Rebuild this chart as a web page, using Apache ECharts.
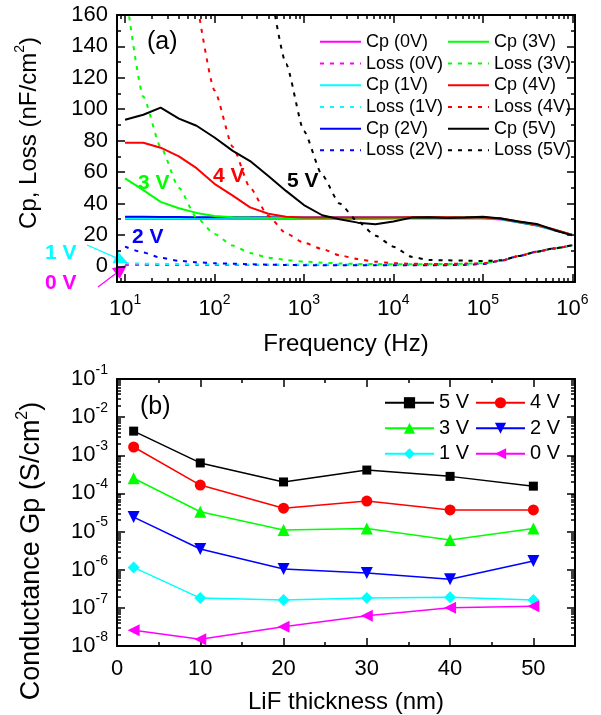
<!DOCTYPE html>
<html>
<head>
<meta charset="utf-8">
<script src="https://cdn.jsdelivr.net/npm/echarts@6/dist/echarts.min.js"></script>
<style>
html, body { margin: 0; padding: 0; background: #fff; }
#chart { width: 601px; height: 715px; }
</style>
</head>
<body>
<div id="chart"></div>
<script>
// (a) capacitance and loss vs frequency
const freqHz = [10, 16, 25, 40, 63, 100, 160, 250, 400, 630, 1e3, 1.6e3, 2.5e3, 4e3, 6.3e3,
    1e4, 1.6e4, 2.5e4, 4e4, 6.3e4, 1e5, 1.6e5, 2.5e5, 4e5, 6.3e5, 1e6];

const cp0V = [30.3, 30.3, 30.3, 30.3, 30.3, 30.3, 30.3, 30.3, 30.3, 30.3, 30.3, 30.3, 30.3, 30.3, 30.3, 30.4, 30.5, 30.5, 30.5, 30.5, 30.5, 29.8, 28, 26, 23, 20];
const cp1V = [30.8, 30.8, 30.8, 30.8, 30.8, 30.8, 30.8, 30.8, 30.8, 30.8, 30.8, 30.8, 30.8, 30.8, 30.8, 30.8, 30.9, 30.9, 30.9, 30.9, 30.9, 30, 28, 26, 23, 20];
const cp2V = [31.5, 31.5, 31.4, 31.4, 31.3, 31.3, 31.2, 31.2, 31.2, 31.1, 31.1, 31.1, 31.1, 31.1, 31.1, 31.1, 31.1, 31.1, 31.1, 31.1, 31, 30.2, 28.2, 26.2, 23.2, 20];
const cp3V = [56, 48.5, 41, 37, 34, 32, 31.2, 31, 30.9, 30.8, 30.8, 30.8, 30.8, 30.8, 30.8, 30.8, 30.9, 31, 31, 31, 31, 30.2, 28.3, 26.3, 23.3, 20];
const cp4V = [78.7, 78.7, 75.5, 70, 62.5, 52.5, 45, 37.5, 33.5, 31.5, 31, 31, 31, 31, 31, 31, 31.2, 31.3, 31.2, 31, 31, 30.4, 28.6, 26.5, 23.5, 20];
const cp5V = [93.3, 96.5, 101, 94, 89.5, 82, 73.5, 67, 57.5, 48, 39, 32.5, 30, 27.8, 26.8, 28.5, 31, 31.3, 30.8, 31, 31.5, 30.5, 28.5, 27, 23, 19.7];

const loss0V = [0.8, 0.8, 0.8, 0.8, 0.8, 0.8, 0.8, 0.8, 0.8, 0.8, 0.8, 0.8, 0.8, 0.8, 0.8, 0.8, 0.8, 0.8, 0.9, 1.1, 1.6, 3.6, 6.5, 9.3, 11.4, 13.4];
const loss1V = [2, 1.7, 1.5, 1.4, 1.3, 1.3, 1.2, 1.2, 1.2, 1.2, 1.2, 1.2, 1.2, 1.2, 1.2, 1.2, 1.2, 1.2, 1.3, 1.4, 1.8, 3.6, 6.5, 9.3, 11.4, 13.4];
const loss2V = [12.5, 8.8, 5.4, 3.5, 2.6, 2, 1.6, 1.3, 1, 0.8, 0.7, 0.6, 0.6, 0.6, 0.6, 0.6, 0.6, 0.6, 0.7, 0.9, 1.5, 3.6, 6.5, 9.3, 11.4, 13.4];
const loss3V = [178, 108, 76, 50, 31, 20.5, 13.2, 8.5, 5.5, 4, 3, 2.3, 1.8, 1.5, 1.4, 1.3, 1.3, 1.4, 1.5, 1.7, 2, 3.6, 6.5, 9.3, 11.4, 13.4];
const loss4V = [null, null, null, null, 170, 112, 76, 50, 32, 21, 15, 11, 7, 4.6, 2.9, 2, 1.6, 1.5, 1.5, 1.7, 1.9, 3.6, 6.5, 9.3, 11.4, 13.4];
const loss5V = [null, null, null, null, null, null, null, null, 185, 129, 86, 58, 40, 28.5, 19.5, 12.5, 6, 4, 3.8, 3.6, 3.4, 3.8, 6.5, 9.3, 11.4, 13.4];

const biasNames = ['0V', '1V', '2V', '3V', '4V', '5V'];
const biasColors = ['#ff00ff', '#00ffff', '#0000ff', '#00ff00', '#ff0000', '#000000'];
const cpSets = [cp0V, cp1V, cp2V, cp3V, cp4V, cp5V];
const lossSets = [loss0V, loss1V, loss2V, loss3V, loss4V, loss5V];

const cpTicks = [0, 20, 40, 60, 80, 100, 120, 140, 160];
const freqDecades = [1, 2, 3, 4, 5, 6];

// (b) conductance vs LiF thickness
const thicknessNm = [2, 10, 20, 30, 40, 50];
const gp5V = [4.3e-3, 6.3e-4, 2.0e-4, 4.1e-4, 2.8e-4, 1.55e-4];
const gp4V = [1.65e-3, 1.66e-4, 4.1e-5, 6.3e-5, 3.7e-5, 3.7e-5];
const gp3V = [2.5e-4, 3.3e-5, 1.1e-5, 1.2e-5, 6e-6, 1.2e-5];
const gp2V = [2.4e-5, 3.5e-6, 1.05e-6, 8.2e-7, 5.6e-7, 1.7e-6];
const gp1V = [1.15e-6, 1.8e-7, 1.6e-7, 1.8e-7, 1.9e-7, 1.6e-7];
const gp0V = [2.6e-8, 1.5e-8, 3.2e-8, 6.2e-8, 1.0e-7, 1.1e-7];

const gpNames = ['5 V', '4 V', '3 V', '2 V', '1 V', '0 V'];
const gpColors = ['#000000', '#ff0000', '#00ff00', '#0000ff', '#00ffff', '#ff00ff'];
const gpSets = [gp5V, gp4V, gp3V, gp2V, gp1V, gp0V];
const gpSymbols = ['rect', 'circle', 'triangle', 'triangle', 'diamond', 'triangle'];
const gpRotate = [0, 0, 0, 180, 0, 90];
const gpSizes = [9, 11, 12, 12, 12, 12];

const thicknessTicks = [0, 10, 20, 30, 40, 50];
const gpDecades = [-8, -7, -6, -5, -4, -3, -2, -1];

const FONT = '"Liberation Sans", Arial, sans-serif';

document.addEventListener('DOMContentLoaded', () => {
    const chart = echarts.init(document.getElementById('chart'));

    const logMinor = (from, to, lo, hi) => {
        const out = [];
        for (let n = from; n < to; n++) {
            for (let k = 2; k <= 9; k++) {
                const v = n + Math.log10(k);
                if (v > lo && v < hi) out.push(v);
            }
        }
        return out;
    };

    const powLabel = (margin) => ({
        margin: margin,
        formatter: (v) => '{b|10}{s|' + Math.round(v) + '}',
        rich: {
            b: { fontSize: 22, lineHeight: 32, fontFamily: FONT, color: '#000' },
            s: { fontSize: 14, lineHeight: 14, verticalAlign: 'top', fontFamily: FONT, color: '#000' }
        }
    });

    // one labelled axis + mirrored axis + two minor-tick axes per dimension
    const axisSet = (dim, grid, min, max, major, minor, label, name) => {
        const sides = dim === 'x' ? ['bottom', 'top'] : ['left', 'right'];
        const make = (pos, ticks, len, line, lab) => {
            const ax = {
                gridIndex: grid, type: 'value', position: pos, min: min, max: max,
                axisLine: { show: line, onZero: false, lineStyle: { color: '#000', width: 2 } },
                axisTick: { show: true, inside: true, length: len, customValues: ticks,
                    lineStyle: { color: '#000', width: 1.5 } },
                axisLabel: lab ? Object.assign({ customValues: major, color: '#000',
                    fontSize: 22, fontFamily: FONT }, lab) : { show: false },
                splitLine: { show: false }
            };
            if (lab && name) Object.assign(ax, name);
            return ax;
        };
        return [
            make(sides[0], major, 8, true, label),
            make(sides[1], major, 8, true, null),
            make(sides[0], minor, 4, false, null),
            make(sides[1], minor, 4, false, null)
        ];
    };

    const xMinA = 0.91, xMaxA = 6.03;
    const xAxes = [].concat(
        axisSet('x', 0, xMinA, xMaxA, freqDecades, logMinor(0, 6, xMinA, xMaxA), powLabel(11), {
            name: 'Frequency (Hz)', nameLocation: 'middle', nameGap: 50,
            nameTextStyle: { fontSize: 24, color: '#000', fontFamily: FONT }
        }),
        axisSet('x', 1, 0, 55, thicknessTicks, [5, 15, 25, 35, 45], { margin: 12 }, {
            name: 'LiF thickness (nm)', nameLocation: 'middle', nameGap: 44,
            nameTextStyle: { fontSize: 24, color: '#000', fontFamily: FONT }
        })
    );
    const yAxes = [].concat(
        axisSet('y', 0, -10, 160, cpTicks, [-10, 10, 30, 50, 70, 90, 110, 130, 150], { margin: 9 }),
        axisSet('y', 1, -8, -1, gpDecades, logMinor(-8, -1, -8, -1), powLabel(9))
    );

    const series = [];
    biasNames.forEach((b, i) => {
        series.push({
            name: 'Cp (' + b + ')', type: 'line', xAxisIndex: 0, yAxisIndex: 0,
            symbol: 'none', clip: true,
            data: freqHz.map((f, j) => [Math.log10(f), cpSets[i][j]]),
            lineStyle: { color: biasColors[i], width: 2 },
            itemStyle: { color: biasColors[i] }
        });
        series.push({
            name: 'Loss (' + b + ')', type: 'line', xAxisIndex: 0, yAxisIndex: 0,
            symbol: 'none', clip: true, smooth: 0.2, smoothMonotone: 'x',
            data: freqHz.map((f, j) => [Math.log10(f), lossSets[i][j]]).filter((p) => p[1] !== null),
            lineStyle: { color: biasColors[i], width: 2, type: [4, 6] },
            itemStyle: { color: biasColors[i] }
        });
    });
    gpNames.forEach((n, i) => {
        series.push({
            name: n, type: 'line', xAxisIndex: 4, yAxisIndex: 4,
            symbol: gpSymbols[i], symbolSize: gpSizes[i], symbolRotate: gpRotate[i],
            data: thicknessNm.map((t, j) => [t, Math.log10(gpSets[i][j])]),
            lineStyle: { color: gpColors[i], width: 1.5 },
            itemStyle: { color: gpColors[i] }
        });
    });

    const legendA = (names, left) => ({
        data: names, orient: 'vertical', left: left, top: 31, padding: 0,
        itemWidth: 41, itemHeight: 10, itemGap: 0,
        itemStyle: { opacity: 0 },
        textStyle: { fontSize: 18, lineHeight: 21.7, color: '#000', fontFamily: FONT }
    });
    const legendB = (names, left) => ({
        data: names, orient: 'vertical', left: left, top: 390, padding: 0,
        itemWidth: 49, itemHeight: 14, itemGap: 0,
        textStyle: { fontSize: 20, lineHeight: 25.5, color: '#000', fontFamily: FONT }
    });

    const txt = (text, x, y, color, size, bold) => ({
        type: 'text', x: x, y: y,
        style: { text: text, fill: color, font: (bold ? 'bold ' : '') + size + 'px ' + FONT,
            textVerticalAlign: 'middle' }
    });
    const arrow = (x1, y1, x2, y2, color) => {
        const dx = x2 - x1, dy = y2 - y1, len = Math.hypot(dx, dy);
        const ux = dx / len, uy = dy / len, hl = 14, hw = 6.5;
        const bx = x2 - ux * hl, by = y2 - uy * hl;
        return [
            { type: 'line', shape: { x1: x1, y1: y1, x2: bx, y2: by }, style: { stroke: color, lineWidth: 1.2 } },
            { type: 'polygon', shape: { points: [[x2, y2], [bx - uy * hw, by + ux * hw], [bx + uy * hw, by - ux * hw]] },
                style: { fill: color } }
        ];
    };
    const vTitle = (rich, x, y) => ({
        type: 'text', x: x, y: y, rotation: Math.PI / 2,
        style: { text: rich.text, rich: rich.rich, align: 'center', verticalAlign: 'middle' }
    });
    const supTitle = (main, size) => ({
        text: '{t|' + main + '}{s|2}{t|)}',
        rich: {
            t: { fontSize: size, lineHeight: size + 8, fontFamily: FONT, fill: '#000', color: '#000' },
            s: { fontSize: Math.round(size * 0.6), lineHeight: size * 0.6, verticalAlign: 'top', fontFamily: FONT, fill: '#000', color: '#000' }
        }
    });

    chart.setOption({
        animation: false,
        backgroundColor: '#fff',
        textStyle: { fontFamily: FONT },
        grid: [
            { left: 117, top: 15, width: 458, height: 267 },
            { left: 117, top: 379, width: 458, height: 267 }
        ],
        xAxis: xAxes,
        yAxis: yAxes,
        legend: [
            legendA(['Cp (0V)', 'Loss (0V)', 'Cp (1V)', 'Loss (1V)', 'Cp (2V)', 'Loss (2V)'], 319),
            legendA(['Cp (3V)', 'Loss (3V)', 'Cp (4V)', 'Loss (4V)', 'Cp (5V)', 'Loss (5V)'], 447),
            legendB(['5 V', '3 V', '1 V'], 384),
            legendB(['4 V', '2 V', '0 V'], 475)
        ],
        series: series,
        graphic: [].concat(
            [
                txt('(a)', 147, 42, '#000', 25, false),
                txt('(b)', 140, 407, '#000', 25, false),
                txt('3 V', 138, 183, '#00ff00', 21, true),
                txt('4 V', 213, 176, '#ff0000', 21, true),
                txt('5 V', 287, 181, '#000000', 21, true),
                txt('2 V', 132, 237, '#0000ff', 21, true),
                txt('1 V', 45, 253, '#00ffff', 21, true),
                txt('0 V', 45, 283, '#ff00ff', 21, true),
                vTitle(supTitle('Cp, Loss (nF/cm', 24), 29, 133),
                vTitle(supTitle('Conductance Gp (S/cm', 27), 32, 551)
            ],
            arrow(87, 245, 128, 263, '#00ffff'),
            arrow(98, 287, 127, 265, '#ff00ff')
        )
    });

    window.addEventListener('resize', () => chart.resize());
});
</script>
</body>
</html>
